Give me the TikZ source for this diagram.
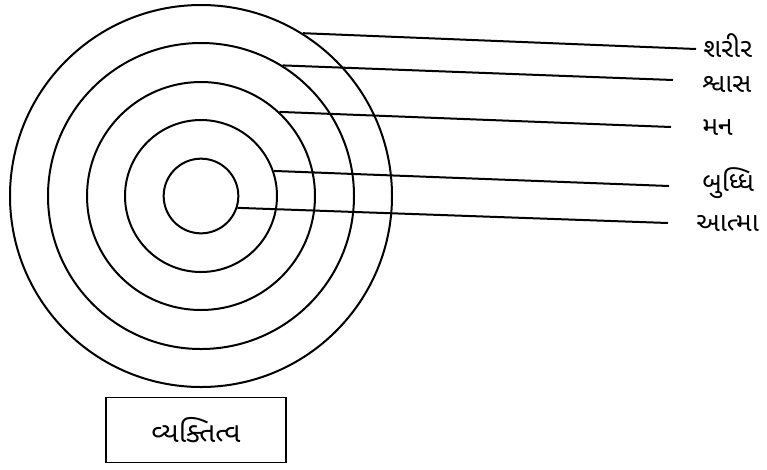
\documentclass[tikz,border=0pt]{standalone}
\usepackage{fontspec}
\newfontfamily\guj[Script=Gujarati]{Noto Sans Gujarati UI}
\begin{document}
\begin{tikzpicture}[x=0.75pt,y=-0.75pt,
  ring/.style={draw, circle, inner sep=0pt, line width=1.5pt},
  lead/.style={line width=1.5pt},
  lbl/.style={anchor=west, inner sep=0pt, font=\guj\fontsize{20}{24}\selectfont},
  namebox/.style={draw, rectangle, line width=1.2pt, minimum width=135pt, minimum height=49pt, font=\guj\fontsize{21}{25}\selectfont}]
\useasboundingbox (0,0) rectangle (767,469);
\node[ring, minimum size=286.5pt] (c1) at (201,196) {};
\node[ring, minimum size=229.5pt] (c2) at (201,196) {};
\node[ring, minimum size=171pt] (c3) at (201,196) {};
\node[ring, minimum size=114pt] (c4) at (201,196) {};
\node[ring, minimum size=56pt] (c5) at (201,196) {};
\coordinate (e1) at (696,49);
\coordinate (e2) at (673,80);
\coordinate (e3) at (671,127);
\coordinate (e4) at (669,186);
\coordinate (e5) at (668,223);
\draw[lead] (c1.58.5) -- (e1);
\draw[lead] (c2.58) -- (e2);
\draw[lead] (c3.47.5) -- (e3);
\draw[lead] (c4.19) -- (e4);
\draw[lead] (c5.-18) -- (e5);
\node[lbl] (l1) at (703,46) {શરીર};
\node[lbl] (l2) at (702,84) {શ્વાસ};
\node[lbl] (l3) at (702,127) {મન};
\node[lbl] (l4) at (702,183) {બુધ્ધિ};
\node[lbl] (l5) at (696,223) {આત્મા};
\node[namebox] (p) at (196,430) {વ્યક્તિત્વ};
\end{tikzpicture}
\end{document}
